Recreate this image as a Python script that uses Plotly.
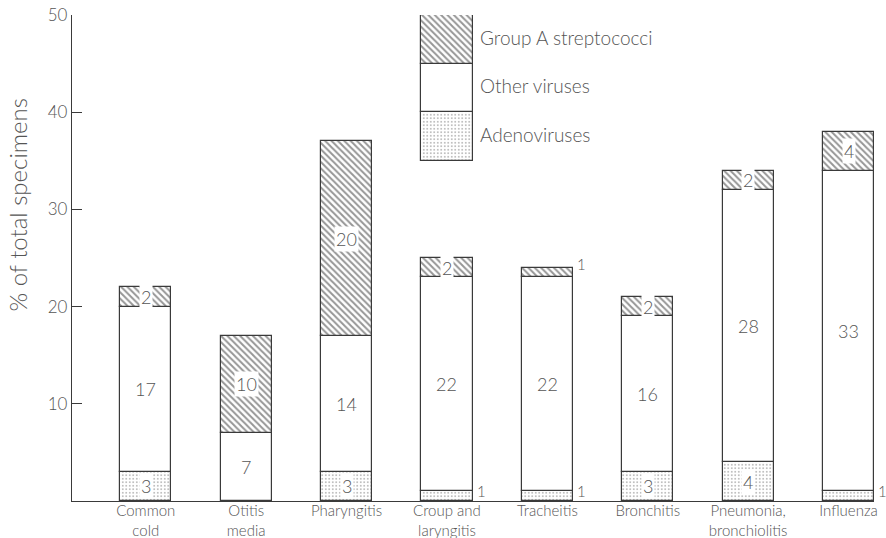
import plotly.graph_objects as go

categories = ["Common<br>cold", "Otitis<br>media", "Pharyngitis", "Croup and<br>laryngitis",
              "Tracheitis", "Bronchitis", "Pneumonia,<br>bronchiolitis", "Influenza"]
adenoviruses = [3, 0, 3, 1, 1, 3, 4, 1]
other_viruses = [17, 7, 14, 22, 22, 16, 28, 33]
group_a_strep = [2, 10, 20, 2, 1, 2, 2, 4]
y_ticks = [10, 20, 30, 40, 50]

LINE = "#3a3a3a"
TEXT = "#555555"
FONT = "Lato"
WEIGHT = 300
BW = 0.51

x = list(range(len(categories)))
base_other = adenoviruses
base_strep = [a + o for a, o in zip(adenoviruses, other_viruses)]

dots = dict(shape=".", size=3.5, solidity=0.2, fgcolor="#555555", bgcolor="white")
hatch = dict(shape="\\", size=4.5, solidity=0.45, fgcolor="#2e2e2e", bgcolor="white")
plain = dict(shape="")

series = [
    ("Adenoviruses", adenoviruses, [0] * len(x), dots),
    ("Other viruses", other_viruses, base_other, plain),
    ("Group A streptococci", group_a_strep, base_strep, hatch),
]


def fnt(size):
    return dict(family=FONT, size=size, color=TEXT, weight=WEIGHT)


fig = go.Figure()
for name, vals, base, pat in series:
    fig.add_trace(go.Bar(
        x=x, y=vals, base=base, width=BW, name=name,
        marker=dict(color="white", pattern=pat, line=dict(color=LINE, width=1.2)),
        showlegend=False, hoverinfo="skip",
    ))

# legend drawn as a stacked key above the croup bar
key_x = 3
key_base = 35
key_h = 5
for i, (name, vals, base, pat) in enumerate(series):
    fig.add_trace(go.Bar(
        x=[key_x], y=[key_h], base=[key_base + i * key_h], width=BW,
        marker=dict(color="white", pattern=pat, line=dict(color=LINE, width=1.2)),
        showlegend=False, hoverinfo="skip", cliponaxis=False,
    ))
    fig.add_annotation(x=key_x + BW / 2, xshift=5, y=key_base + i * key_h + key_h / 2 + 0.2,
                       text=name, showarrow=False, xanchor="left", yanchor="middle",
                       font=fnt(19))

# value labels
for name, vals, base, pat in series:
    for xi, v, b in zip(x, vals, base):
        if v == 0:
            continue
        if v == 1:
            # small segments labelled to the right of the bar
            top = (b + v) if b == 0 else (b + v + 0.4)
            fig.add_annotation(x=xi + BW / 2 - 0.01, xshift=3, y=top, text=str(v),
                               showarrow=False, xanchor="left", yanchor="middle",
                               font=fnt(15))
        else:
            fig.add_annotation(x=xi, y=b + v / 2, text=str(v), showarrow=False,
                               xanchor="center", yanchor="middle",
                               bgcolor="white" if pat is not plain else None,
                               borderpad=1, font=fnt(18))

fig.add_annotation(xref="paper", yref="paper", x=0, xshift=-54, y=0.61,
                   text="% of total specimens", textangle=-90, showarrow=False,
                   xanchor="center", yanchor="middle", font=fnt(24))

fig.update_layout(
    width=886, height=538,
    margin=dict(l=72, r=12, t=15, b=37),
    paper_bgcolor="white", plot_bgcolor="white",
    barmode="overlay", bargap=0,
    font=fnt(16),
)
fig.update_xaxes(
    range=[-0.735, 7.254], tickvals=x, ticktext=categories, automargin=False,
    showline=True, linecolor=LINE, linewidth=1.3, ticks="", showgrid=False,
    zeroline=False, tickfont=fnt(15), ticklabelstandoff=-4,
)
fig.update_yaxes(
    range=[0, 50], tickvals=y_ticks, ticktext=[str(t) for t in y_ticks], automargin=False,
    showline=True, linecolor=LINE, linewidth=1.3, ticks="inside", ticklen=10,
    tickwidth=1.3, tickcolor=LINE, showgrid=False, zeroline=False,
    tickfont=fnt(17),
)

fig.write_html("out.html", config={"displayModeBar": False},
               post_script="document.body.style.margin='0';document.body.style.overflow='hidden';")
